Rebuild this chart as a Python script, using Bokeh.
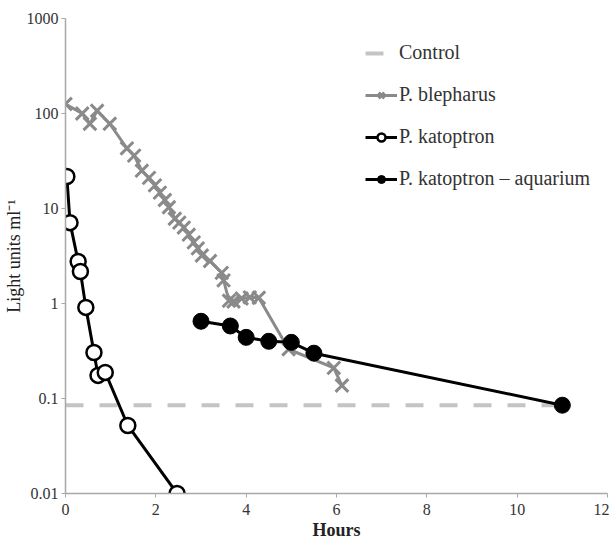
from bokeh.plotting import figure
from bokeh.models import Legend, LegendItem, FixedTicker
from bokeh.embed import file_html
from bokeh.resources import INLINE

# Data
control_x = [0.0, 11.0]
control_y = [0.085, 0.085]

blepharus_x = [0.0, 0.37, 0.54, 0.7, 0.98, 1.36, 1.52, 1.69, 1.85, 1.98, 2.09, 2.2, 2.29, 2.42, 2.52,
               2.62, 2.73, 2.84, 2.93, 3.02, 3.2, 3.46, 3.5, 3.62, 3.72, 3.9, 4.08, 4.28, 4.94, 5.94, 6.12]
blepharus_y = [126, 100, 78, 107, 78, 43, 36, 25, 21, 17.5, 14.7, 12.3, 10.3, 7.8, 7.1,
               6.3, 5.3, 4.4, 3.8, 3.2, 2.8, 2.1, 1.75, 1.07, 1.05, 1.13, 1.16, 1.15, 0.33, 0.21, 0.137]

katoptron_x = [0.03, 0.1, 0.28, 0.33, 0.45, 0.63, 0.72, 0.88, 1.38, 2.47]
katoptron_y = [21.7, 7.1, 2.77, 2.17, 0.91, 0.305, 0.175, 0.188, 0.052, 0.01]

aquarium_x = [3.0, 3.65, 4.0, 4.5, 5.0, 5.5, 11.0]
aquarium_y = [0.65, 0.58, 0.44, 0.40, 0.39, 0.30, 0.085]

x_ticks = [0, 2, 4, 6, 8, 10, 12]
y_ticks = [0.01, 0.1, 1, 10, 100, 1000]
y_tick_labels = {0.01: "0.01", 0.1: "0.1", 1: "1", 10: "10", 100: "100", 1000: "1000"}

FONT = "Liberation Serif"

p = figure(frame_width=542, frame_height=475, y_axis_type="log",
           x_range=(0, 12), y_range=(0.01, 1000),
           output_backend="svg", toolbar_location=None,
           min_border_left=56, min_border_top=18, min_border_right=2, min_border_bottom=52)
p.outline_line_color = None
p.xgrid.visible = False
p.ygrid.visible = False

r_ctrl = p.line(control_x, control_y, line_color="#c4c4c4", line_width=4, line_dash="18 16")

r_bl_line = p.line(blepharus_x, blepharus_y, line_color="#8a8a8a", line_width=3)
r_bl_pts = p.scatter(blepharus_x, blepharus_y, marker="x", size=18, line_color="#8a8a8a", line_width=3)

r_k_line = p.line(katoptron_x, katoptron_y, line_color="black", line_width=3)
r_k_pts = p.scatter(katoptron_x, katoptron_y, marker="circle", size=15, fill_color="white",
                    line_color="black", line_width=2.5)

r_a_line = p.line(aquarium_x, aquarium_y, line_color="black", line_width=3)
r_a_pts = p.scatter(aquarium_x, aquarium_y, marker="circle", size=16, fill_color="black",
                    line_color="black")

legend = Legend(items=[
    LegendItem(label="Control", renderers=[r_ctrl]),
    LegendItem(label="P. blepharus", renderers=[r_bl_line, r_bl_pts]),
    LegendItem(label="P. katoptron", renderers=[r_k_line, r_k_pts]),
    LegendItem(label="P. katoptron \u2013 aquarium", renderers=[r_a_line, r_a_pts]),
], location=(300, 303), border_line_color=None, background_fill_alpha=0,
    label_text_font=FONT, label_text_font_size="20px", label_text_color="#333333",
    glyph_width=32, label_standoff=2, spacing=19, padding=0, margin=0)
p.add_layout(legend)

for ax in (p.xaxis[0], p.yaxis[0]):
    ax.axis_line_color = "#a8a8a8"
    ax.axis_line_width = 1.5
    ax.major_tick_line_color = "#a8a8a8"
    ax.minor_tick_line_color = None
    ax.major_tick_in = 0
    ax.major_tick_out = 4
    ax.major_label_text_font = FONT
    ax.major_label_text_font_size = "16px"
    ax.major_label_text_color = "#333333"
    ax.axis_label_text_font = FONT
    ax.axis_label_text_color = "#222222"

p.xaxis.ticker = FixedTicker(ticks=x_ticks)
p.yaxis.ticker = FixedTicker(ticks=y_ticks)
p.yaxis.major_label_overrides = y_tick_labels
p.xaxis.major_label_standoff = 6
p.yaxis.major_label_standoff = 3
p.xaxis.axis_label = "Hours"
p.xaxis.axis_label_text_font_style = "bold"
p.xaxis.axis_label_text_font_size = "18px"
p.xaxis.axis_label_standoff = 2
p.yaxis.axis_label = "Light units ml\u207b\u00b9"
p.yaxis.axis_label_text_font_style = "normal"
p.yaxis.axis_label_text_font_size = "18px"
p.yaxis.axis_label_standoff = 0

open("out.html", "w").write(file_html(p, INLINE))
